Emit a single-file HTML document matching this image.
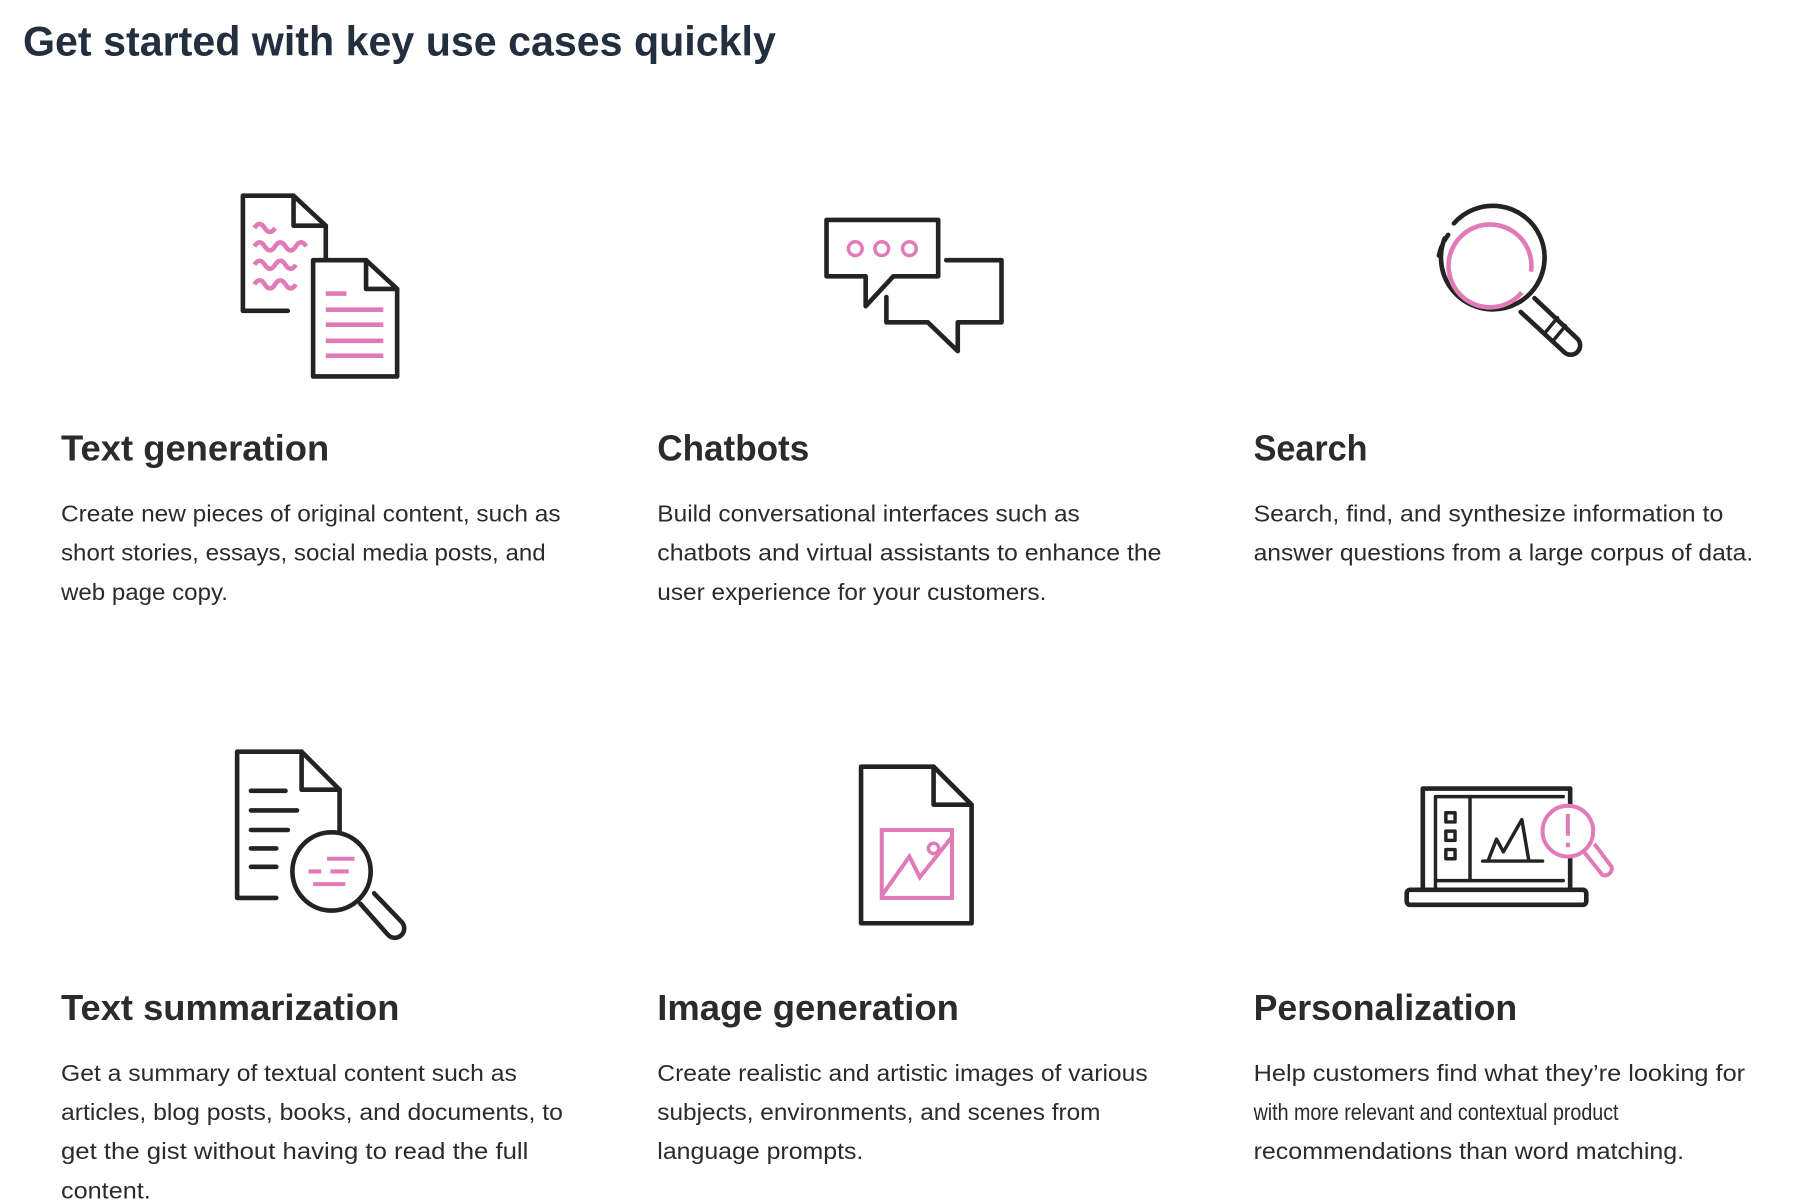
<!DOCTYPE html>
<html><head><meta charset="utf-8"><style>
html,body{margin:0;padding:0;background:#fff;}
svg{display:block}
text{font-family:"Liberation Sans",sans-serif;}
.h{font-size:31px;font-weight:bold;fill:#2b2b2b}
.b{font-size:20px;fill:#2b2b2b}
.k{fill:none;stroke:#232323;stroke-width:4;stroke-linejoin:round;stroke-linecap:round}
.p{fill:none;stroke:#e07bb8;stroke-width:4;stroke-linecap:butt}
</style></head><body>
<svg width="1805" height="1200" viewBox="0 0 1568 1042.4" xmlns="http://www.w3.org/2000/svg">
<text x="20" y="48" style="font-size:36px;font-weight:bold;fill:#232f3e" textLength="654" lengthAdjust="spacingAndGlyphs">Get started with key use cases quickly</text>

<!-- Text generation icon -->
<path class="k" d="M250 270 H211 V170 H255 L283 196 V243"/>
<path class="k" d="M255 170 V196 H283"/>
<path class="p" d="M221 198 q4.5 -7 9 0 t9 0"/>
<path class="p" d="M221 214 q4.5 -7 9 0 t9 0 t9 0 t9 0 t9 0"/>
<path class="p" d="M221 230 q4.5 -7 9 0 t9 0 t9 0 t9 0"/>
<path class="p" d="M221 247 q4.5 -7 9 0 t9 0 t9 0 t9 0"/>
<path class="k" d="M272 226 H318 L345 251 V327 H272 Z" style="fill:#fff"/>
<path class="k" d="M318 226 V251 H345"/>
<path class="p" d="M283 255 H301 M283 269 H333 M283 282 H333 M283 296 H333 M283 309 H333"/>

<!-- Chatbots icon -->
<path class="k" d="M718 191 H815 V240 H776 L752 266 V240 H718 Z"/>
<circle cx="743" cy="216" r="6" class="p" style="stroke-width:3"/>
<circle cx="766" cy="216" r="6" class="p" style="stroke-width:3"/>
<circle cx="790" cy="216" r="6" class="p" style="stroke-width:3"/>
<path class="k" d="M822 226 H870 V280 H832 V305 L806 280 H770 V258"/>

<!-- Search icon -->
<path class="k" d="M1263 194 A45 45 0 1 1 1255 207" />
<path class="k" d="M1250 222 A45 45 0 0 1 1258 204" style="stroke-dasharray:8 6"/>
<path class="p" d="M1322 254 A36 36 0 1 1 1330 236"/>
<path class="k" d="M1333 259 L1370 294 A8 8 0 0 1 1359 306 L1321 271"/>
<path class="k" d="M1343 288 L1353 276 M1350 295 L1360 283" style="stroke-width:3"/>

<!-- Text summarization icon -->
<path class="k" d="M240 780 H206 V653 H262 L295 686 V728"/>
<path class="k" d="M262 653 V686 H295"/>
<path class="k" d="M218 687 H248 M218 704 H258 M218 721 H250 M218 737 H240 M218 753 H240"/>
<path class="k" d="M313 785 L337 812 A8 8 0 0 0 349 801 L325 776"/>
<circle cx="288" cy="757" r="34" class="k" style="fill:#fff"/>
<path class="p" d="M284 746 H308 M268 757 H279 M287 757 H303 M272 768 H300" style="stroke-width:3.5"/>

<!-- Image generation icon -->
<path class="k" d="M748 666 H811 L844 699 V802 H748 Z"/>
<path class="k" d="M811 666 V699 H844"/>
<rect x="766" y="721" width="61" height="59" class="p" style="stroke-width:3.5"/>
<path class="p" d="M766 778 L790 744 L799 762 L827 727" style="stroke-width:3.5"/>
<circle cx="811" cy="737" r="4.5" class="p" style="stroke-width:3"/>

<!-- Personalization icon -->
<path class="k" d="M1236 772 V685 H1364 V700"/>
<path class="k" d="M1364 745 V772"/>
<path class="k" d="M1247 772 V692 H1358 M1247 765 H1358" style="stroke-width:3"/>
<path class="k" d="M1277 692 V765" style="stroke-width:3"/>
<rect x="1222" y="773" width="156" height="13" rx="3" class="k"/>
<rect x="1256" y="706" width="8" height="8" class="k" style="stroke-width:3"/>
<rect x="1256" y="722" width="8" height="8" class="k" style="stroke-width:3"/>
<rect x="1256" y="738" width="8" height="8" class="k" style="stroke-width:3"/>
<path class="k" d="M1288 748 H1340" style="stroke-width:3"/>
<path class="k" d="M1293 747 L1300 729 L1306 740 L1322 712 L1328 747" style="stroke-width:3"/>
<path class="p" d="M1376 740 L1392 760 A6 6 0 0 0 1400 753 L1385 733" style="stroke-width:3.5"/>
<circle cx="1362" cy="722" r="22" class="p" style="fill:#fff;stroke-width:3.5"/>
<path class="p" d="M1362 707 V726 M1362 732 V736" style="stroke-width:3.5"/>

<!-- Row 1 text -->
<text class="h" x="53" y="400" textLength="233" lengthAdjust="spacingAndGlyphs">Text generation</text>
<text class="h" x="571" y="400" textLength="132" lengthAdjust="spacingAndGlyphs">Chatbots</text>
<text class="h" x="1089" y="400" textLength="99" lengthAdjust="spacingAndGlyphs">Search</text>

<text class="b" x="53" y="453" textLength="434" lengthAdjust="spacingAndGlyphs">Create new pieces of original content, such as</text>
<text class="b" x="53" y="487" textLength="421" lengthAdjust="spacingAndGlyphs">short stories, essays, social media posts, and</text>
<text class="b" x="53" y="521" textLength="145" lengthAdjust="spacingAndGlyphs">web page copy.</text>

<text class="b" x="571" y="453" textLength="367" lengthAdjust="spacingAndGlyphs">Build conversational interfaces such as</text>
<text class="b" x="571" y="487" textLength="438" lengthAdjust="spacingAndGlyphs">chatbots and virtual assistants to enhance the</text>
<text class="b" x="571" y="521" textLength="338" lengthAdjust="spacingAndGlyphs">user experience for your customers.</text>

<text class="b" x="1089" y="453" textLength="408" lengthAdjust="spacingAndGlyphs">Search, find, and synthesize information to</text>
<text class="b" x="1089" y="487" textLength="434" lengthAdjust="spacingAndGlyphs">answer questions from a large corpus of data.</text>

<!-- Row 2 text -->
<text class="h" x="53" y="886" textLength="294" lengthAdjust="spacingAndGlyphs">Text summarization</text>
<text class="h" x="571" y="886" textLength="262" lengthAdjust="spacingAndGlyphs">Image generation</text>
<text class="h" x="1089" y="886" textLength="229" lengthAdjust="spacingAndGlyphs">Personalization</text>

<text class="b" x="53" y="939" textLength="396" lengthAdjust="spacingAndGlyphs">Get a summary of textual content such as</text>
<text class="b" x="53" y="973" textLength="436" lengthAdjust="spacingAndGlyphs">articles, blog posts, books, and documents, to</text>
<text class="b" x="53" y="1007" textLength="406" lengthAdjust="spacingAndGlyphs">get the gist without having to read the full</text>
<text class="b" x="53" y="1041" textLength="78" lengthAdjust="spacingAndGlyphs">content.</text>

<text class="b" x="571" y="939" textLength="426" lengthAdjust="spacingAndGlyphs">Create realistic and artistic images of various</text>
<text class="b" x="571" y="973" textLength="385" lengthAdjust="spacingAndGlyphs">subjects, environments, and scenes from</text>
<text class="b" x="571" y="1007" textLength="179" lengthAdjust="spacingAndGlyphs">language prompts.</text>

<text class="b" x="1089" y="939" textLength="427" lengthAdjust="spacingAndGlyphs">Help customers find what they’re looking for</text>
<text class="b" x="1089" y="973" textLength="317" lengthAdjust="spacingAndGlyphs">with more relevant and contextual product</text>
<text class="b" x="1089" y="1007" textLength="374" lengthAdjust="spacingAndGlyphs">recommendations than word matching.</text>
</svg>
</body></html>
